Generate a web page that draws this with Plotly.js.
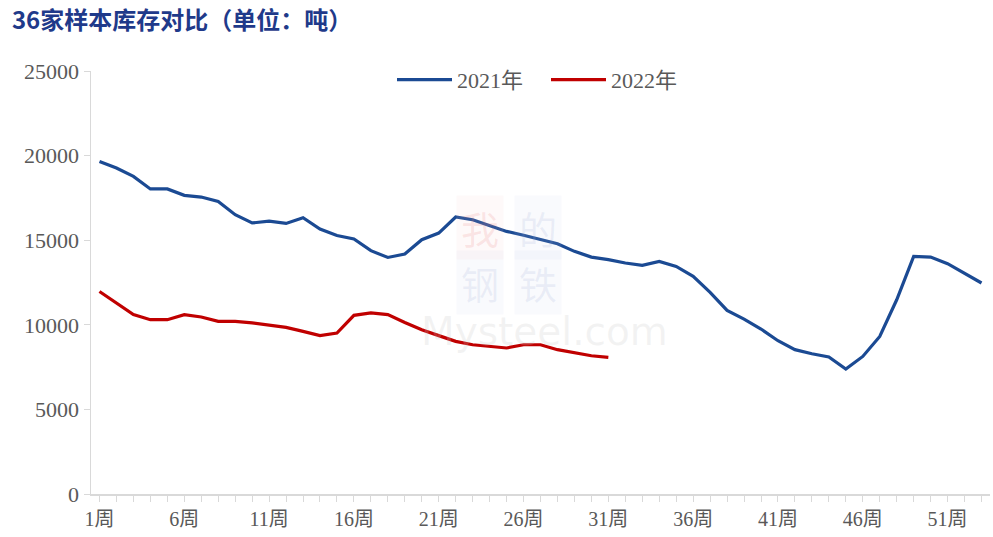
<!DOCTYPE html>
<html>
<head>
<meta charset="utf-8">
<script src="https://cdn.plot.ly/plotly-3.0.1.min.js"></script>
<style>html,body{margin:0;padding:0;background:#fff;}#chart{width:993px;height:537px;}</style>
</head>
<body>
<div id="chart"></div>
<script>
const weeks = [];
for (let i = 1; i <= 53; i++) weeks.push(i + '周');
const tickLabels = ['1周','6周','11周','16周','21周','26周','31周','36周','41周','46周','51周'];
const yTicks = [0, 5000, 10000, 15000, 20000, 25000];
const inv2021 = [19650,19270,18770,18030,18030,17650,17550,17290,16510,16020,
  16130,15990,16330,15660,15280,15070,14380,13980,14180,15030,
  15420,16370,16210,15860,15520,15290,15030,14790,14340,14000,
  13850,13650,13510,13750,13450,12860,11920,10850,10340,9750,
  9060,8530,8290,8100,7390,8130,9310,11480,14040,14000,
  13610,13060,12470];
const inv2022 = [11970,11290,10600,10300,10300,10600,10460,10200,10200,10110,
  9990,9850,9610,9360,9510,10560,10700,10600,10140,9710,
  9360,9020,8820,8720,8630,8820,8820,8530,8370,8170,8070];
const seriesNames = ['2021年','2022年'];

const font = 'Liberation Serif, Times New Roman, Noto Sans CJK SC, serif';
const data = [
  {x: weeks, y: inv2021, name: seriesNames[0], type: 'scatter', mode: 'lines',
   line: {color: '#1B4A93', width: 3.2}},
  {x: weeks.slice(0, inv2022.length), y: inv2022, name: seriesNames[1], type: 'scatter', mode: 'lines',
   line: {color: '#C00000', width: 3.2}}
];
const wm = (txt, x, y, col, bg) => ({xref: 'paper', yref: 'paper', x: x, y: y, xanchor: 'center', yanchor: 'middle',
  text: txt, showarrow: false, bgcolor: bg, borderpad: 4,
  font: {family: 'Noto Sans CJK SC, sans-serif', size: 38, color: col}});
const layout = {
  width: 993, height: 537,
  margin: {l: 91, r: 3, t: 71, b: 43},
  paper_bgcolor: '#fff', plot_bgcolor: '#fff',
  title: {text: '<b>36家样本库存对比（单位：吨）</b>', x: 0.012, xanchor: 'left', y: 0.962, yanchor: 'middle',
          font: {family: 'Noto Sans CJK SC, sans-serif', size: 24, color: '#1F3A8A'}},
  showlegend: true,
  legend: {orientation: 'h', x: (392 - 91) / 899, xanchor: 'left', y: 0.979, yanchor: 'middle',
           entrywidth: 84, entrywidthmode: 'pixels',
           font: {family: font, size: 22, color: '#595959'}, itemwidth: 55, tracegroupgap: 0},
  xaxis: {type: 'category', categoryorder: 'array', categoryarray: weeks,
          tickmode: 'array', tickvals: weeks, ticktext: weeks.map(w => tickLabels.includes(w) ? w : ''),
          tickangle: 0,
          showline: true, linecolor: '#D9D9D9', linewidth: 1.5,
          ticks: 'outside', ticklen: 6, tickcolor: '#D9D9D9',
          showgrid: false, zeroline: false, range: [-0.5, 52.5],
          tickfont: {family: font, size: 20, color: '#595959'}},
  yaxis: {range: [0, 25000], tickmode: 'array', tickvals: yTicks, ticktext: yTicks.map(String),
          showline: true, linecolor: '#D9D9D9', linewidth: 1.5,
          ticks: 'outside', ticklen: 6, tickcolor: '#D9D9D9',
          showgrid: false, zeroline: false,
          tickfont: {family: font, size: 22, color: '#595959'}},
  annotations: [
    wm('我', 0.433, 0.63, 'rgba(230,120,120,0.16)', 'rgba(250,200,200,0.10)'),
    wm('的', 0.497, 0.63, 'rgba(150,165,210,0.16)', 'rgba(200,210,240,0.10)'),
    wm('钢', 0.433, 0.50, 'rgba(150,165,210,0.16)', 'rgba(200,210,240,0.10)'),
    wm('铁', 0.497, 0.50, 'rgba(150,165,210,0.16)', 'rgba(200,210,240,0.10)'),
    {xref: 'paper', yref: 'paper', x: 0.505, y: 0.385, xanchor: 'center', yanchor: 'middle', text: 'Mysteel.com', showarrow: false,
     font: {family: 'DejaVu Sans, sans-serif', size: 39, color: 'rgba(200,200,200,0.22)'}}
  ]
};
Plotly.newPlot('chart', data, layout, {displayModeBar: false, staticPlot: true});
</script>
</body>
</html>
